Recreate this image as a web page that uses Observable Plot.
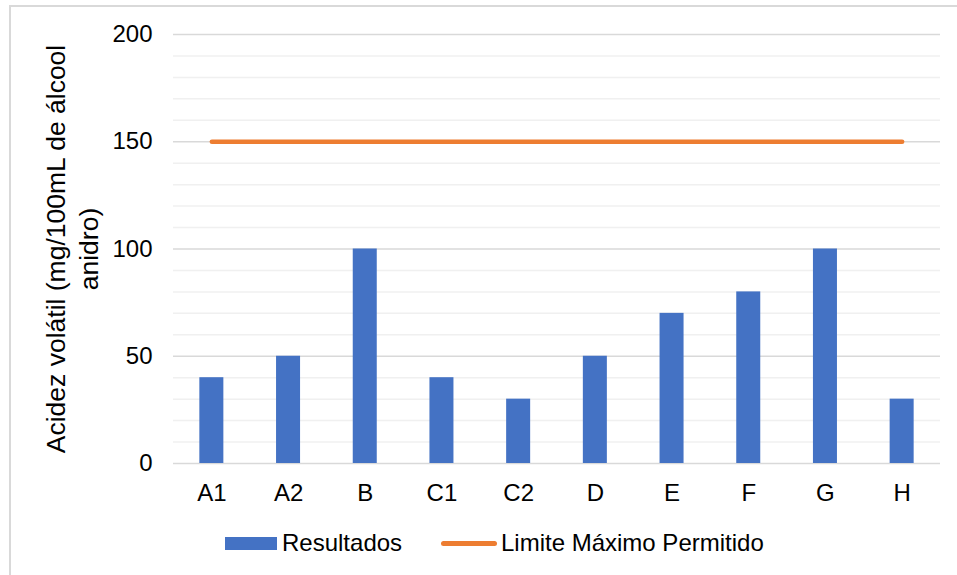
<!DOCTYPE html>
<html>
<head>
<meta charset="utf-8">
<script src="https://cdn.jsdelivr.net/npm/d3@7"></script>
<script src="https://cdn.jsdelivr.net/npm/@observablehq/plot@0.6"></script>
<style>
  html, body { margin: 0; padding: 0; background: #fff; }
  #wrap { position: relative; width: 957px; height: 575px; overflow: hidden;
          font-family: "Liberation Sans", Arial, sans-serif; color: #000; }
  #frame { position: absolute; left: 9px; top: 5px; right: -2px; bottom: -2px;
           border-left: 2px solid #d9d9d9; border-top: 2px solid #d9d9d9; }
  #chart { position: absolute; left: 0; top: 0; }
  .legend { position: absolute; top: 531px; font-size: 24px; line-height: 24px; white-space: nowrap; }
  .swatch { position: absolute; }
</style>
</head>
<body>
<div id="wrap">
  <div id="frame"></div>
  <div id="chart"></div>
  <div class="swatch" id="sw-bar" style="left:225px; top:537px; width:52px; height:13px;"></div>
  <div class="legend" id="lg-bar" style="left:282px;"></div>
  <div class="swatch" id="sw-line" style="left:441px; top:541px; width:56px; height:5px; border-radius:3px;"></div>
  <div class="legend" id="lg-line" style="left:501px;"></div>
</div>
<script>
// Amostras analisadas e acidez volátil medida (mg/100mL de álcool anidro)
const amostras = ["A1", "A2", "B", "C1", "C2", "D", "E", "F", "G", "H"];
const resultados = [40, 50, 100, 40, 30, 50, 70, 80, 100, 30];
const limiteMaximo = 150;

const yTicks = [0, 50, 100, 150, 200];
const yMinorTicks = [10, 20, 30, 40, 60, 70, 80, 90, 110, 120, 130, 140, 160, 170, 180, 190];

const serieNomes = ["Resultados", "Limite Máximo Permitido"];
const cores = ["#4472C4", "#ED7D31"];
const tituloY = "Acidez volátil (mg/100mL de álcool\nanidro)";

const barras = amostras.map((a, i) => ({amostra: a, valor: resultados[i]}));
const limite = amostras.map(a => ({amostra: a, valor: limiteMaximo}));

const font = "Liberation Sans, Arial, sans-serif";

const chart = Plot.plot({
  width: 957,
  height: 505,
  marginLeft: 173,
  marginRight: 17,
  marginTop: 34,
  marginBottom: 42,
  style: {fontFamily: font, fontSize: "24px", color: "#000", background: "transparent", overflow: "visible"},
  x: {domain: amostras, paddingInner: 0.687, paddingOuter: 0.3435, align: 0.5, round: false},
  y: {domain: [0, 200]},
  marks: [
    Plot.gridY(yMinorTicks, {stroke: "#f0f0f0", strokeOpacity: 1, strokeWidth: 1.5}),
    Plot.gridY(yTicks, {stroke: "#d9d9d9", strokeOpacity: 1, strokeWidth: 1.5}),
    Plot.barY(barras, {x: "amostra", y: "valor", fill: cores[0]}),
    Plot.line(limite, {x: "amostra", y: "valor", stroke: cores[1], strokeWidth: 4.5, strokeLinecap: "round"}),
    Plot.axisY({ticks: yTicks, tickSize: 0, tickPadding: 21, label: null, fontSize: 24, fill: "#000"}),
    Plot.axisX({tickSize: 0, tickPadding: 20, label: null, fontSize: 24, fill: "#000"}),
    Plot.text([tituloY], {
      frameAnchor: "left", text: d => d, rotate: -90, dx: -102.5,
      fontSize: 26.5, lineHeight: 1.25, textAnchor: "middle", lineAnchor: "middle", fill: "#000"
    })
  ]
});
document.getElementById("chart").appendChild(chart);

document.getElementById("sw-bar").style.background = cores[0];
document.getElementById("sw-line").style.background = cores[1];
document.getElementById("lg-bar").textContent = serieNomes[0];
document.getElementById("lg-line").textContent = serieNomes[1];
</script>
</body>
</html>
